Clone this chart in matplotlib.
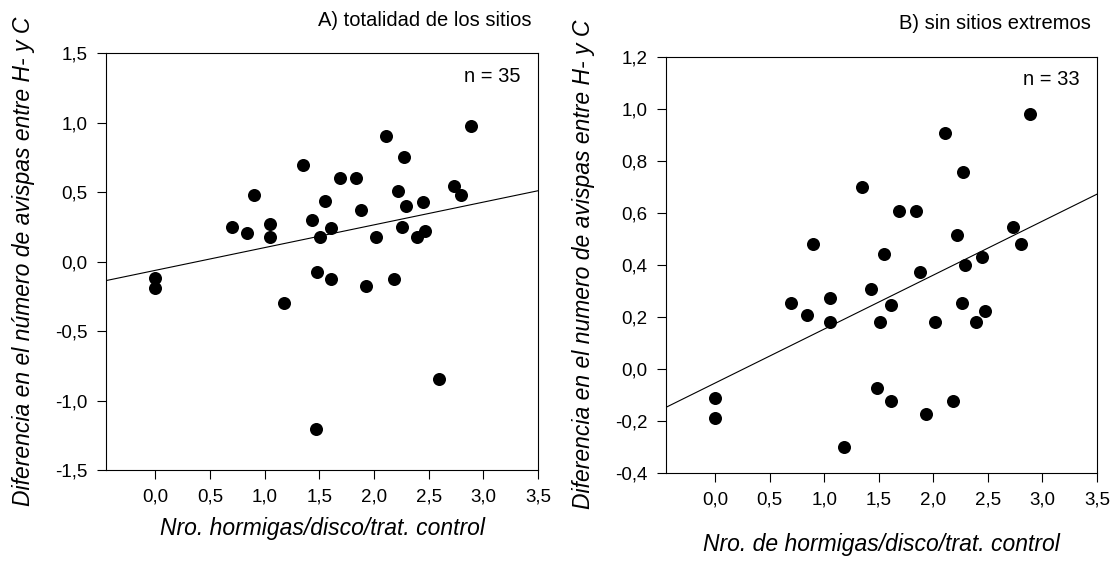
#!/usr/bin/env python3
"""
Diferencia en avispas vs. hormigas por disco, dos paneles
"""

import matplotlib
matplotlib.use('Agg')
import matplotlib.pyplot as plt
import numpy as np
from matplotlib.ticker import FuncFormatter

plt.rcParams['font.family'] = ['Liberation Sans', 'DejaVu Sans']

# sitios sin extremos (panel B)
hormigas = [0.0, 0.0, 0.70, 0.84, 0.90, 1.05, 1.05, 1.18, 1.35, 1.43, 1.48,
            1.51, 1.55, 1.61, 1.61, 1.69, 1.84, 1.88, 1.93, 2.02, 2.11, 2.18,
            2.22, 2.27, 2.26, 2.29, 2.39, 2.45, 2.47, 2.73, 2.80, 2.89]
avispas = [-0.115, -0.19, 0.252, 0.205, 0.48, 0.271, 0.178, -0.30, 0.70, 0.304,
           -0.076, 0.178, 0.441, 0.245, -0.124, 0.604, 0.604, 0.370, -0.176,
           0.178, 0.905, -0.124, 0.512, 0.755, 0.252, 0.399, 0.178, 0.429,
           0.222, 0.544, 0.48, 0.980]

# sitios extremos (solo en panel A)
hormigas_ext = [1.47, 2.59]
avispas_ext = [-1.204, -0.844]

xticks = [0.0, 0.5, 1.0, 1.5, 2.0, 2.5, 3.0, 3.5]
yticks_a = [-1.5, -1.0, -0.5, 0.0, 0.5, 1.0, 1.5]
yticks_b = [-0.4, -0.2, 0.0, 0.2, 0.4, 0.6, 0.8, 1.0, 1.2]

xmin, xmax = -0.45, 3.5


def coma(v, pos):
    return f'{v:.1f}'.replace('.', ',')


def panel(ax, x, y, yticks, title, ntext, ylabel, xlabel, xlab_y):
    x = np.array(x)
    y = np.array(y)
    ax.scatter(x, y, s=88, color='black', zorder=3, linewidths=0)
    b, a = np.polyfit(x, y, 1)
    xs = np.array([xmin, xmax])
    ax.plot(xs, a + b * xs, color='black', lw=0.8)
    ax.set_xlim(xmin, xmax)
    ax.set_ylim(yticks[0], yticks[-1])
    ax.set_xticks(xticks)
    ax.set_yticks(yticks)
    ax.xaxis.set_major_formatter(FuncFormatter(coma))
    ax.yaxis.set_major_formatter(FuncFormatter(coma))
    ax.tick_params(direction='out', length=6.5, width=0.8, labelsize=13.5, pad=7)
    for s in ax.spines.values():
        s.set_linewidth(0.8)
    ax.set_ylabel(ylabel, style='italic', fontsize=16.5)
    ax.set_xlabel(xlabel, style='italic', fontsize=16.5)
    ax.yaxis.set_label_coords(-0.165, 0.5)
    ax.xaxis.set_label_coords(0.5, xlab_y)
    ax.text(0.985, 1.08, title, transform=ax.transAxes, ha='right', va='center', fontsize=14.5)
    ax.text(0.96, 0.945, ntext, transform=ax.transAxes, ha='right', va='center', fontsize=14.5)


fig = plt.figure(figsize=(11.17, 5.79), dpi=100)
ax1 = fig.add_axes([0.0949, 0.1883, 0.3868, 0.7193])
ax2 = fig.add_axes([0.5962, 0.1839, 0.3859, 0.7185])

panel(ax1, hormigas + hormigas_ext, avispas + avispas_ext, yticks_a,
      'A) totalidad de los sitios', 'n = 35',
      'Diferencia en el número de avispas entre H- y C',
      'Nro. hormigas/disco/trat. control', -0.113)
panel(ax2, hormigas, avispas, yticks_b,
      'B) sin sitios extremos', 'n = 33',
      'Diferencia en el numero de avispas entre H- y C',
      'Nro. de hormigas/disco/trat. control', -0.145)

plt.savefig('out.png', dpi=100)
plt.close('all')
